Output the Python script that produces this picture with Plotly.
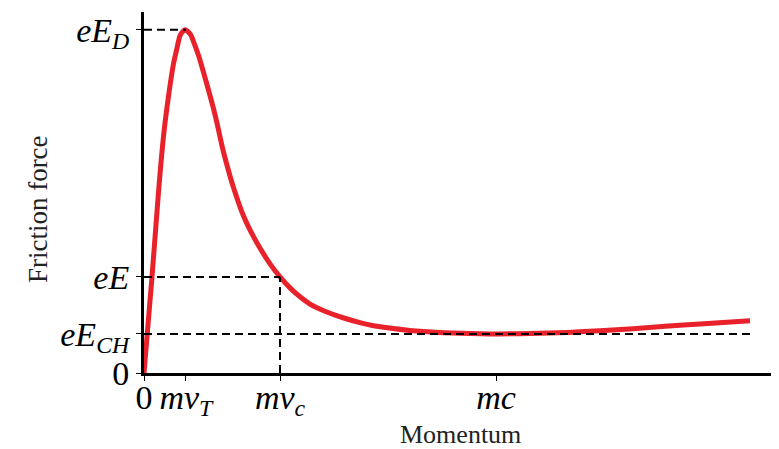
import plotly.graph_objects as go

# Courbe de friction (unites arbitraires : mc = 10, eE_D = 1)
momentum = [0.0, 0.227, 0.406, 0.477, 0.568, 0.690, 0.832, 0.938, 1.023,
            1.108, 1.179, 1.25, 1.335, 1.420, 1.563, 1.790, 1.960, 2.074, 2.244,
            2.443, 2.528, 2.813, 3.011, 3.210, 3.580, 3.864, 4.148, 4.432, 4.716,
            5.14, 5.653, 6.136, 6.619, 7.557, 8.409, 8.977, 10.0, 10.966, 12.017,
            12.955, 13.892, 14.8, 15.795, 17.216]
friction = [0.0, 0.280, 0.519, 0.606, 0.703, 0.802, 0.898, 0.947, 0.983,
            0.996, 1.0, 0.995, 0.984, 0.962, 0.921, 0.840, 0.776, 0.728, 0.650,
            0.574, 0.545, 0.461, 0.417, 0.379, 0.318, 0.280, 0.248, 0.222, 0.201,
            0.180, 0.161, 0.147, 0.136, 0.124, 0.118, 0.116, 0.114, 0.115, 0.118,
            0.123, 0.129, 0.136, 0.143, 0.152]

# Valeurs caracteristiques
p_T, p_c, p_mc = 1.19, 3.864, 10.0
F_D, F_E, F_CH = 1.0, 0.28, 0.114

x_ticks = [0, p_T, p_c, p_mc]
x_labels = ["0", "<i>mv</i><sub><i>T</i></sub>", "<i>mv</i><sub><i>c</i></sub>", "<i>mc</i>"]
y_ticks = [0, F_CH, F_E, F_D]
y_labels = ["0", "<i>eE</i><sub><i>CH</i></sub>", "<i>eE</i>", "<i>eE</i><sub><i>D</i></sub>"]

SERIF = "Liberation Serif, serif"

fig = go.Figure()

fig.add_trace(
    go.Scatter(
        x=momentum,
        y=friction,
        mode="lines",
        line=dict(color="#e8212a", width=5, shape="spline", smoothing=0.8),
        hoverinfo="skip",
        showlegend=False
    )
)

dash_style = dict(color="black", width=2, dash="8px,5px")
# Lignes pointillees de repere
fig.add_shape(type="line", x0=0, x1=p_T, y0=F_D, y1=F_D, line=dash_style)
fig.add_shape(type="line", x0=0, x1=p_c, y0=F_E, y1=F_E, line=dash_style)
fig.add_shape(type="line", x0=p_c, x1=p_c, y0=0, y1=F_E, line=dash_style)
fig.add_shape(type="line", x0=0, x1=momentum[-1], y0=F_CH, y1=F_CH, line=dash_style)

# Titres des axes places a la main
fig.add_annotation(text="Momentum", xref="paper", yref="paper", x=0.499, y=0,
                   yshift=-61, xanchor="center", yanchor="middle", showarrow=False,
                   font=dict(family=SERIF, size=26, color="#222"))
fig.add_annotation(text="Friction force", xref="paper", yref="paper", x=0, y=0.454,
                   xshift=-106, xanchor="center", yanchor="middle", textangle=-90,
                   showarrow=False, font=dict(family=SERIF, size=27, color="#222"))

axis_common = dict(
    showgrid=False,
    zeroline=False,
    showline=True,
    linecolor="black",
    linewidth=3,
    ticks="outside",
    ticklen=5,
    tickwidth=1,
    tickcolor="black",
    automargin=False,
    tickfont=dict(family=SERIF, size=34),
)

# la page ajoute 8 px de marge au body : on decale les marges d'autant
fig.update_layout(
    width=779,
    height=449,
    margin=dict(l=136, r=8, t=4, b=84),
    paper_bgcolor="white",
    plot_bgcolor="white",
    font=dict(family=SERIF, color="black"),
    xaxis=dict(axis_common, range=[0, 18.04], tickvals=x_ticks, ticktext=x_labels,
               ticklabelstandoff=-13),
    yaxis=dict(axis_common, range=[0, 1.052], tickvals=y_ticks, ticktext=y_labels),
)

fig.write_html("out.html")
